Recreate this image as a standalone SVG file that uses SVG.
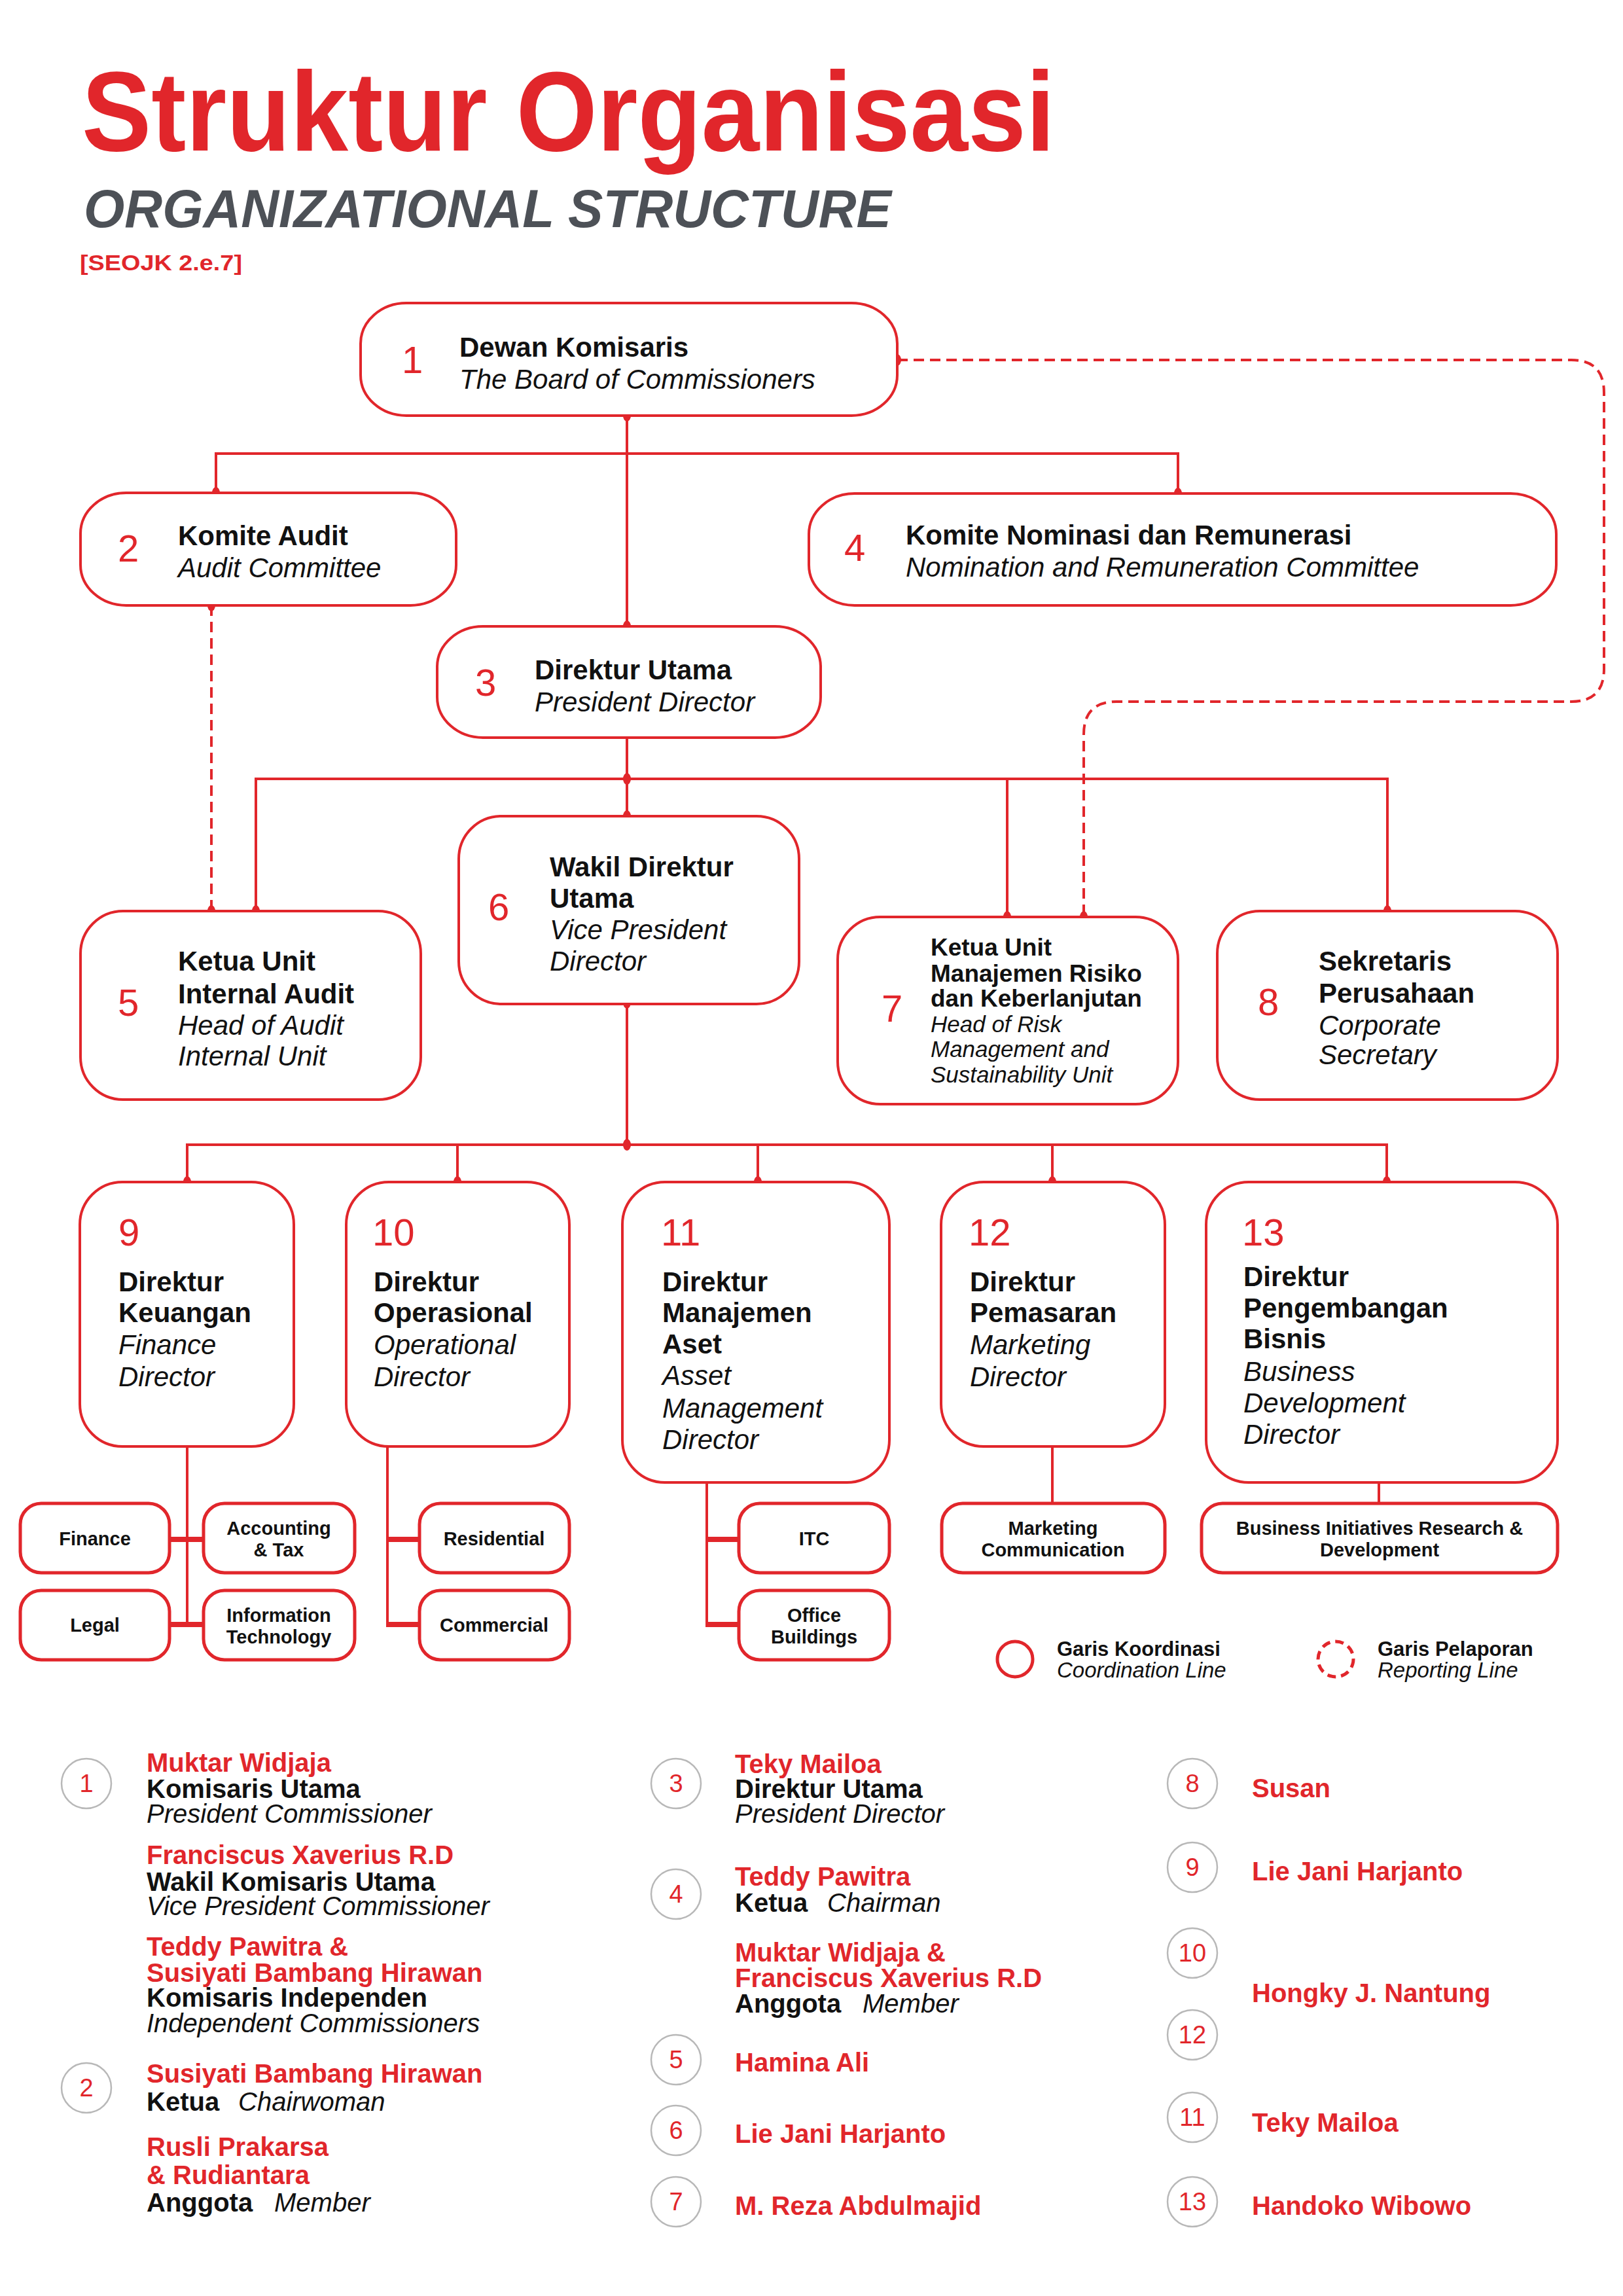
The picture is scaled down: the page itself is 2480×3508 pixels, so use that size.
<svg xmlns="http://www.w3.org/2000/svg" width="2480" height="3508" viewBox="0 0 2480 3508">
<style>
.bg{fill:#fff}
.box{fill:#fff;stroke:#E1262B;stroke-width:4}
.sub{fill:#fff;stroke:#E1262B;stroke-width:5}
.ln{fill:none;stroke:#E1262B;stroke-width:4}
.stub{fill:none;stroke:#E1262B;stroke-width:8}
.dash{fill:none;stroke:#E1262B;stroke-width:4;stroke-dasharray:16 9}
.dot{fill:#E1262B}
text{font-family:"Liberation Sans",Arial,sans-serif}
.b{font-weight:700;fill:#111;font-size:42px}
.i{font-style:italic;fill:#111;font-size:42px}
.b7{font-weight:700;fill:#111;font-size:37px}
.i7{font-style:italic;fill:#111;font-size:35px}
.num{fill:#E1262B;font-size:58px}
.sb{font-weight:700;fill:#111;font-size:29px;text-anchor:middle}
.nm{font-weight:700;fill:#E1262B;font-size:40px}
.rb{font-weight:700;fill:#111;font-size:40px}
.ri{font-style:italic;fill:#111;font-size:40px}
.cc{fill:#fff;stroke:#b8b8b8;stroke-width:2.5}
.cn{fill:#E1262B;font-size:38px;text-anchor:middle}
.lb{font-weight:700;fill:#111;font-size:31px}
.li{font-style:italic;fill:#111;font-size:33px}
</style>
<rect class="bg" x="0" y="0" width="2480" height="3508"/>

<g id="title">
<text x="125" y="230" font-size="172" font-weight="700" fill="#E1262B" textLength="1487" lengthAdjust="spacingAndGlyphs">Struktur Organisasi</text>
<text x="128" y="347" font-size="82" font-weight="700" font-style="italic" fill="#4D5157" textLength="1234" lengthAdjust="spacingAndGlyphs">ORGANIZATIONAL STRUCTURE</text>
<text x="122" y="413" font-size="34" font-weight="700" fill="#E1262B" textLength="248" lengthAdjust="spacingAndGlyphs">[SEOJK 2.e.7]</text>
</g>

<g id="connectors">
<path class="ln" d="M958,635 V957"/>
<path class="ln" d="M330,753 V693 H1800 V754"/>
<path class="ln" d="M958,1100 V1247"/>
<path class="ln" d="M391,1392 V1190 H2120 V1392"/>
<path class="ln" d="M1539,1190 V1401"/>
<path class="ln" d="M958,1534 V1749"/>
<path class="ln" d="M286,1806 V1749 H2119 V1806"/>
<path class="ln" d="M699,1749 V1806 M1158,1749 V1806 M1608,1749 V1806"/>
<path class="ln" d="M286,2210 V2482"/>
<path class="stub" d="M259,2352 H311 M259,2482 H311"/>
<path class="ln" d="M592,2210 V2482"/>
<path class="stub" d="M590,2352 H641 M590,2482 H641"/>
<path class="ln" d="M1080,2265 V2482"/>
<path class="stub" d="M1078,2352 H1129 M1078,2482 H1129"/>
<path class="ln" d="M1608,2210 V2297"/>
<path class="ln" d="M2107,2265 V2297"/>
<path class="dash" d="M323,925 V1392"/>
<path class="dash" d="M1371,550 H2401 Q2451,550 2451,600 V1022 Q2451,1072 2401,1072 H1706 Q1656,1072 1656,1122 V1401"/>
<ellipse class="dot" cx="958" cy="635" rx="6" ry="9"/>
<ellipse class="dot" cx="958" cy="957" rx="6" ry="9"/>
<ellipse class="dot" cx="330" cy="753" rx="6" ry="9"/>
<ellipse class="dot" cx="1800" cy="754" rx="6" ry="9"/>
<ellipse class="dot" cx="1371" cy="550" rx="6" ry="9"/>
<ellipse class="dot" cx="323" cy="925" rx="6" ry="9"/>
<ellipse class="dot" cx="958" cy="1100" rx="6" ry="9"/>
<ellipse class="dot" cx="958" cy="1190" rx="6" ry="9"/>
<ellipse class="dot" cx="958" cy="1247" rx="6" ry="9"/>
<ellipse class="dot" cx="323" cy="1392" rx="6" ry="9"/>
<ellipse class="dot" cx="391" cy="1392" rx="6" ry="9"/>
<ellipse class="dot" cx="1539" cy="1401" rx="6" ry="9"/>
<ellipse class="dot" cx="1656" cy="1401" rx="6" ry="9"/>
<ellipse class="dot" cx="2120" cy="1392" rx="6" ry="9"/>
<ellipse class="dot" cx="958" cy="1532" rx="6" ry="9"/>
<ellipse class="dot" cx="958" cy="1749" rx="6" ry="9"/>
<ellipse class="dot" cx="286" cy="1806" rx="6" ry="9"/>
<ellipse class="dot" cx="699" cy="1806" rx="6" ry="9"/>
<ellipse class="dot" cx="1158" cy="1806" rx="6" ry="9"/>
<ellipse class="dot" cx="1608" cy="1806" rx="6" ry="9"/>
<ellipse class="dot" cx="2119" cy="1806" rx="6" ry="9"/>
</g>

<g id="n1">
<rect class="box" x="551" y="463" width="820" height="172" rx="70" ry="62"/>
<text class="num" x="614" y="570">1</text>
<text class="b" x="702" y="545">Dewan Komisaris</text>
<text class="i" x="702" y="594">The Board of Commissioners</text>
</g>
<g id="n2">
<rect class="box" x="123" y="753" width="574" height="172" rx="70" ry="62"/>
<text class="num" x="180" y="858">2</text>
<text class="b" x="272" y="833">Komite Audit</text>
<text class="i" x="272" y="882">Audit Committee</text>
</g>
<g id="n4">
<rect class="box" x="1236" y="754" width="1142" height="171" rx="70" ry="62"/>
<text class="num" x="1290" y="857">4</text>
<text class="b" x="1384" y="832">Komite Nominasi dan Remunerasi</text>
<text class="i" x="1384" y="881">Nomination and Remuneration Committee</text>
</g>
<g id="n3">
<rect class="box" x="668" y="957" width="586" height="170" rx="70" ry="62"/>
<text class="num" x="726" y="1063">3</text>
<text class="b" x="817" y="1038">Direktur Utama</text>
<text class="i" x="817" y="1087">President Director</text>
</g>
<g id="n5">
<rect class="box" x="123" y="1392" width="520" height="288" rx="65" ry="65"/>
<text class="num" x="180" y="1552">5</text>
<text class="b" x="272" y="1483">Ketua Unit</text>
<text class="b" x="272" y="1533">Internal Audit</text>
<text class="i" x="272" y="1581">Head of Audit</text>
<text class="i" x="272" y="1628">Internal Unit</text>
</g>
<g id="n6">
<rect class="box" x="701" y="1247" width="520" height="287" rx="65" ry="65"/>
<text class="num" x="746" y="1406">6</text>
<text class="b" x="840" y="1339">Wakil Direktur</text>
<text class="b" x="840" y="1387">Utama</text>
<text class="i" x="840" y="1435">Vice President</text>
<text class="i" x="840" y="1483">Director</text>
</g>
<g id="n7">
<rect class="box" x="1280" y="1401" width="520" height="286" rx="65" ry="65"/>
<text class="num" x="1347" y="1561">7</text>
<text class="b7" x="1422" y="1460">Ketua Unit</text>
<text class="b7" x="1422" y="1500">Manajemen Risiko</text>
<text class="b7" x="1422" y="1538">dan Keberlanjutan</text>
<text class="i7" x="1422" y="1577">Head of Risk</text>
<text class="i7" x="1422" y="1615">Management and</text>
<text class="i7" x="1422" y="1654">Sustainability Unit</text>
</g>
<g id="n8">
<rect class="box" x="1860" y="1392" width="520" height="288" rx="65" ry="65"/>
<text class="num" x="1922" y="1551">8</text>
<text class="b" x="2015" y="1483">Sekretaris</text>
<text class="b" x="2015" y="1532">Perusahaan</text>
<text class="i" x="2015" y="1581">Corporate</text>
<text class="i" x="2015" y="1626">Secretary</text>
</g>
<g id="n9">
<rect class="box" x="122" y="1806" width="327" height="404" rx="65" ry="65"/>
<text class="num" x="181" y="1903">9</text>
<text class="b" x="181" y="1973">Direktur</text>
<text class="b" x="181" y="2020">Keuangan</text>
<text class="i" x="181" y="2069">Finance</text>
<text class="i" x="181" y="2118">Director</text>
</g>
<g id="n10">
<rect class="box" x="529" y="1806" width="341" height="404" rx="65" ry="65"/>
<text class="num" x="569" y="1903">10</text>
<text class="b" x="571" y="1973">Direktur</text>
<text class="b" x="571" y="2020">Operasional</text>
<text class="i" x="571" y="2069">Operational</text>
<text class="i" x="571" y="2118">Director</text>
</g>
<g id="n11">
<rect class="box" x="951" y="1806" width="408" height="459" rx="65" ry="65"/>
<text class="num" x="1010" y="1903">11</text>
<text class="b" x="1012" y="1973">Direktur</text>
<text class="b" x="1012" y="2020">Manajemen</text>
<text class="b" x="1012" y="2068">Aset</text>
<text class="i" x="1012" y="2116">Asset</text>
<text class="i" x="1012" y="2166">Management</text>
<text class="i" x="1012" y="2214">Director</text>
</g>
<g id="n12">
<rect class="box" x="1438" y="1806" width="342" height="404" rx="65" ry="65"/>
<text class="num" x="1480" y="1903">12</text>
<text class="b" x="1482" y="1973">Direktur</text>
<text class="b" x="1482" y="2020">Pemasaran</text>
<text class="i" x="1482" y="2069">Marketing</text>
<text class="i" x="1482" y="2118">Director</text>
</g>
<g id="n13">
<rect class="box" x="1843" y="1806" width="537" height="459" rx="65" ry="65"/>
<text class="num" x="1898" y="1903">13</text>
<text class="b" x="1900" y="1965">Direktur</text>
<text class="b" x="1900" y="2013">Pengembangan</text>
<text class="b" x="1900" y="2060">Bisnis</text>
<text class="i" x="1900" y="2110">Business</text>
<text class="i" x="1900" y="2158">Development</text>
<text class="i" x="1900" y="2206">Director</text>
</g>

<g id="s-finance"><rect class="sub" x="31" y="2297" width="228" height="106" rx="32"/><text class="sb" x="145" y="2361">Finance</text></g>
<g id="s-accounting"><rect class="sub" x="311" y="2297" width="231" height="106" rx="32"/><text class="sb" x="426" y="2345">Accounting</text><text class="sb" x="426" y="2378">&amp; Tax</text></g>
<g id="s-legal"><rect class="sub" x="31" y="2430" width="228" height="106" rx="32"/><text class="sb" x="145" y="2493">Legal</text></g>
<g id="s-it"><rect class="sub" x="311" y="2430" width="231" height="106" rx="32"/><text class="sb" x="426" y="2478">Information</text><text class="sb" x="426" y="2511">Technology</text></g>
<g id="s-residential"><rect class="sub" x="641" y="2297" width="229" height="106" rx="32"/><text class="sb" x="755" y="2361">Residential</text></g>
<g id="s-commercial"><rect class="sub" x="641" y="2430" width="229" height="106" rx="32"/><text class="sb" x="755" y="2493">Commercial</text></g>
<g id="s-itc"><rect class="sub" x="1129" y="2297" width="230" height="106" rx="32"/><text class="sb" x="1244" y="2361">ITC</text></g>
<g id="s-office"><rect class="sub" x="1129" y="2430" width="230" height="106" rx="32"/><text class="sb" x="1244" y="2478">Office</text><text class="sb" x="1244" y="2511">Buildings</text></g>
<g id="s-marcom"><rect class="sub" x="1439" y="2297" width="341" height="106" rx="32"/><text class="sb" x="1609" y="2345">Marketing</text><text class="sb" x="1609" y="2378">Communication</text></g>
<g id="s-bird"><rect class="sub" x="1836" y="2297" width="544" height="106" rx="32"/><text class="sb" x="2108" y="2345" font-size="28">Business Initiatives Research &amp;</text><text class="sb" x="2108" y="2378">Development</text></g>

<g id="legend">
<circle cx="1551" cy="2535" r="27" fill="none" stroke="#E1262B" stroke-width="5"/>
<text class="lb" x="1615" y="2530">Garis Koordinasi</text>
<text class="li" x="1615" y="2563">Coordination Line</text>
<circle cx="2041" cy="2535" r="27" fill="none" stroke="#E1262B" stroke-width="5" stroke-dasharray="13 8"/>
<text class="lb" x="2105" y="2530">Garis Pelaporan</text>
<text class="li" x="2105" y="2563">Reporting Line</text>
</g>

<g id="people-col1">
<circle class="cc" cx="132" cy="2725" r="38"/><text class="cn" x="132" y="2738">1</text>
<text class="nm" x="224" y="2707">Muktar Widjaja</text>
<text class="rb" x="224" y="2747">Komisaris Utama</text>
<text class="ri" x="224" y="2785">President Commissioner</text>
<text class="nm" x="224" y="2848">Franciscus Xaverius R.D</text>
<text class="rb" x="224" y="2889">Wakil Komisaris Utama</text>
<text class="ri" x="224" y="2926">Vice President Commissioner</text>
<text class="nm" x="224" y="2988">Teddy Pawitra &amp;</text>
<text class="nm" x="224" y="3028">Susiyati Bambang Hirawan</text>
<text class="rb" x="224" y="3066">Komisaris Independen</text>
<text class="ri" x="224" y="3105">Independent Commissioners</text>
<circle class="cc" cx="132" cy="3190" r="38"/><text class="cn" x="132" y="3203">2</text>
<text class="nm" x="224" y="3182">Susiyati Bambang Hirawan</text>
<text class="rb" x="224" y="3225">Ketua</text>
<text class="ri" x="364" y="3225">Chairwoman</text>
<text class="nm" x="224" y="3294">Rusli Prakarsa</text>
<text class="nm" x="224" y="3337">&amp; Rudiantara</text>
<text class="rb" x="224" y="3379">Anggota</text>
<text class="ri" x="419" y="3379">Member</text>
</g>

<g id="people-col2">
<circle class="cc" cx="1033" cy="2725" r="38"/><text class="cn" x="1033" y="2738">3</text>
<text class="nm" x="1123" y="2709">Teky Mailoa</text>
<text class="rb" x="1123" y="2747">Direktur Utama</text>
<text class="ri" x="1123" y="2785">President Director</text>
<circle class="cc" cx="1033" cy="2894" r="38"/><text class="cn" x="1033" y="2907">4</text>
<text class="nm" x="1123" y="2881">Teddy Pawitra</text>
<text class="rb" x="1123" y="2921">Ketua</text>
<text class="ri" x="1264" y="2921">Chairman</text>
<text class="nm" x="1123" y="2997">Muktar Widjaja &amp;</text>
<text class="nm" x="1123" y="3036">Franciscus Xaverius R.D</text>
<text class="rb" x="1123" y="3075">Anggota</text>
<text class="ri" x="1318" y="3075">Member</text>
<circle class="cc" cx="1033" cy="3147" r="38"/><text class="cn" x="1033" y="3160">5</text>
<text class="nm" x="1123" y="3165">Hamina Ali</text>
<circle class="cc" cx="1033" cy="3255" r="38"/><text class="cn" x="1033" y="3268">6</text>
<text class="nm" x="1123" y="3274">Lie Jani Harjanto</text>
<circle class="cc" cx="1033" cy="3364" r="38"/><text class="cn" x="1033" y="3377">7</text>
<text class="nm" x="1123" y="3384">M. Reza Abdulmajid</text>
</g>

<g id="people-col3">
<circle class="cc" cx="1822" cy="2725" r="38"/><text class="cn" x="1822" y="2738">8</text>
<text class="nm" x="1913" y="2746">Susan</text>
<circle class="cc" cx="1822" cy="2853" r="38"/><text class="cn" x="1822" y="2866">9</text>
<text class="nm" x="1913" y="2873">Lie Jani Harjanto</text>
<circle class="cc" cx="1822" cy="2984" r="38"/><text class="cn" x="1822" y="2997">10</text>
<circle class="cc" cx="1822" cy="3109" r="38"/><text class="cn" x="1822" y="3122">12</text>
<text class="nm" x="1913" y="3059">Hongky J. Nantung</text>
<circle class="cc" cx="1822" cy="3235" r="38"/><text class="cn" x="1822" y="3248">11</text>
<text class="nm" x="1913" y="3257">Teky Mailoa</text>
<circle class="cc" cx="1822" cy="3364" r="38"/><text class="cn" x="1822" y="3377">13</text>
<text class="nm" x="1913" y="3384">Handoko Wibowo</text>
</g>
</svg>
